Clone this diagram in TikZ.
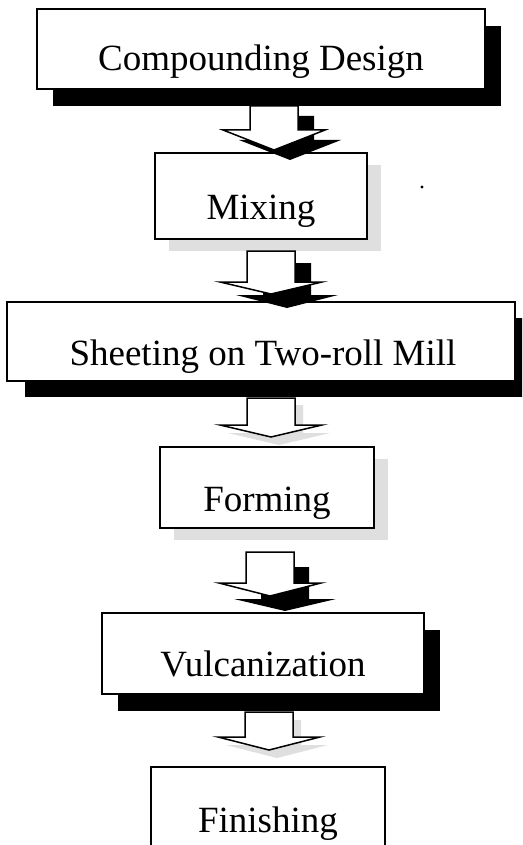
\documentclass[tikz,border=0pt]{standalone}
\usepackage{fontspec}
\setmainfont{Liberation Serif}
\newcommand\blkarr[5]{%
  \path[#5] (#1-24,#2) -- (#1-24,#3) -- (#1-51,#3) -- (#1,#4) -- (#1+51,#3) -- (#1+24,#3) -- (#1+24,#2) -- cycle;}
\begin{document}
\begin{tikzpicture}[x=1pt,y=-1pt,
  box/.style={draw=black,line width=1.6pt,fill=white,rectangle,inner sep=0pt},
  shad/.style={fill=black},
  gshad/.style={fill=gray!25},
  lbl/.style={anchor=base,font=\fontsize{37}{42}\selectfont,inner sep=0pt},
  blk/.style={draw=black,line width=1.5pt,fill=white,line join=miter},
  blkshad/.style={fill=black},
  blkgshad/.style={fill=gray!25}]
\clip (0,0) rectangle (522,845);
\fill[white] (0,0) rectangle (522,845);
% shadows
\fill[shad] (53,26) rectangle (501,106);
\fill[gshad] (169,165) rectangle (381,251);
\fill[shad] (25,318) rectangle (533,397);
\fill[gshad] (174,459) rectangle (388,540);
\fill[shad] (118,630) rectangle (440,711);
% boxes
\node[box,minimum width=448pt,minimum height=80pt] (b1) at (261,49) {};
\node[box,minimum width=212pt,minimum height=86pt] (b2) at (261,196) {};
\node[box,minimum width=508pt,minimum height=79pt] (b3) at (261,341.5) {};
\node[box,minimum width=214pt,minimum height=81pt] (b4) at (267,487.5) {};
\node[box,minimum width=322pt,minimum height=81pt] (b5) at (263,653.5) {};
\node[box,minimum width=234pt,minimum height=110pt] (b6) at (268,822) {};
% labels
\node[lbl] (t1) at (261,71) {Compounding Design};
\node[lbl] (t2) at (261,219) {Mixing};
\node[lbl] (t3) at (263,365) {Sheeting on Two-roll Mill};
\node[lbl] (t4) at (267,511) {Forming};
\node[lbl] (t5) at (263,676) {Vulcanization};
\node[lbl] (t6) at (268,832) {Finishing};
% block arrows
\blkarr{290}{116}{140}{160}{blkshad}
\blkarr{274}{106}{130}{150}{blk}
\blkarr{287}{263}{295}{308}{blkshad}
\blkarr{271}{251}{282}{294}{blk}
\blkarr{279}{405}{433}{445}{blkgshad}
\blkarr{271}{398}{425}{437}{blk}
\blkarr{285}{567}{599}{611}{blkshad}
\blkarr{270}{552}{583}{596}{blk}
\blkarr{277}{720}{745}{758}{blkgshad}
\blkarr{269}{712}{737}{750}{blk}
% stray mark
\fill (422,187) circle (1.6);
\end{tikzpicture}
\end{document}
